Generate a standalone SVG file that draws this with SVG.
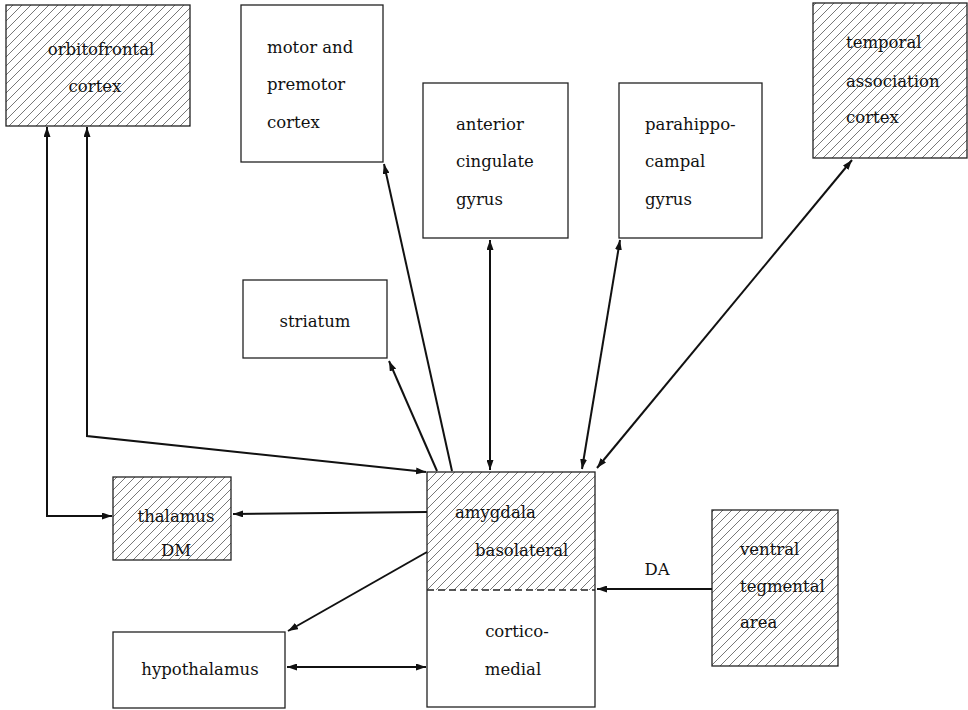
<svg xmlns="http://www.w3.org/2000/svg" width="968" height="710" viewBox="0 0 968 710">
<defs>
<pattern id="hatch" patternUnits="userSpaceOnUse" width="9" height="9">
<path d="M-2,2 L2,-2 M0,9 L9,0 M7,11 L11,7" stroke="#555" stroke-width="0.8"/>
</pattern>
<marker id="ah" viewBox="0 0 10 7" refX="10" refY="3.5" markerWidth="10" markerHeight="7" markerUnits="userSpaceOnUse" orient="auto-start-reverse">
<path d="M0,0 L10,3.5 L0,7 z" fill="#111"/>
</marker>
<style>
.box{fill:#fff;stroke:#222;stroke-width:1.3}
.hb{fill:url(#hatch);stroke:#222;stroke-width:1.3}
text{font-family:"DejaVu Serif","Liberation Serif",serif;font-size:16.5px;fill:#111}
.c{text-anchor:middle}
.ln{fill:none;stroke:#111;stroke-width:2}
.one{marker-end:url(#ah)}
.two{marker-start:url(#ah);marker-end:url(#ah)}
</style>
</defs>
<rect width="968" height="710" fill="#fff"/>

<g id="orbitofrontal">
<rect class="hb" x="6" y="5" width="184" height="121"/>
<text class="c" x="101" y="55">orbitofrontal</text>
<text class="c" x="95" y="92">cortex</text>
</g>

<g id="motor">
<rect class="box" x="241" y="5" width="142" height="157"/>
<text x="267" y="53">motor and</text>
<text x="267" y="90">premotor</text>
<text x="267" y="128">cortex</text>
</g>

<g id="anterior-cingulate">
<rect class="box" x="423" y="83" width="145" height="155"/>
<text x="456" y="130">anterior</text>
<text x="456" y="167">cingulate</text>
<text x="456" y="205">gyrus</text>
</g>

<g id="parahippocampal">
<rect class="box" x="619" y="83" width="143" height="155"/>
<text x="645" y="130">parahippo-</text>
<text x="645" y="167">campal</text>
<text x="645" y="205">gyrus</text>
</g>

<g id="temporal">
<rect class="hb" x="813" y="3" width="154" height="155"/>
<text x="846" y="48">temporal</text>
<text x="846" y="87">association</text>
<text x="846" y="123">cortex</text>
</g>

<g id="striatum">
<rect class="box" x="243" y="280" width="144" height="78"/>
<text class="c" x="315" y="327">striatum</text>
</g>

<g id="thalamus">
<rect class="hb" x="113" y="477" width="118" height="83"/>
<text class="c" x="176" y="522">thalamus</text>
<text class="c" x="176" y="556">DM</text>
</g>

<g id="amygdala">
<rect x="427" y="472" width="168" height="118" fill="url(#hatch)"/>
<rect x="427" y="472" width="168" height="235" fill="none" stroke="#222" stroke-width="1.3"/>
<line x1="427" y1="590" x2="595" y2="590" stroke="#222" stroke-width="1.5" stroke-dasharray="7,4"/>
<text x="455" y="518">amygdala</text>
<text x="475" y="556">basolateral</text>
<text class="c" x="517" y="637">cortico-</text>
<text class="c" x="513" y="675">medial</text>
</g>

<g id="vta">
<rect class="hb" x="712" y="510" width="126" height="156"/>
<text x="740" y="555">ventral</text>
<text x="740" y="592">tegmental</text>
<text x="740" y="628">area</text>
</g>

<g id="hypothalamus">
<rect class="box" x="113" y="632" width="172" height="76"/>
<text class="c" x="200" y="675">hypothalamus</text>
</g>

<g id="connectors">
<path class="ln two" d="M47,127 V516 H112"/>
<path class="ln two" d="M87,127 V436 L426,472"/>
<path class="ln one" d="M452,471 L384,164"/>
<path class="ln one" d="M437,471 L389,361"/>
<path class="ln two" d="M490,240 V470"/>
<path class="ln two" d="M582,469 L620,240"/>
<path class="ln two" d="M597,468 L852,160"/>
<path class="ln one" d="M427,512 L233,514"/>
<path class="ln one" d="M427,552 L288,631"/>
<path class="ln two" d="M287,667 H426"/>
<path class="ln one" d="M712,589 H597"/>
<text class="c" x="657" y="575">DA</text>
</g>
</svg>
